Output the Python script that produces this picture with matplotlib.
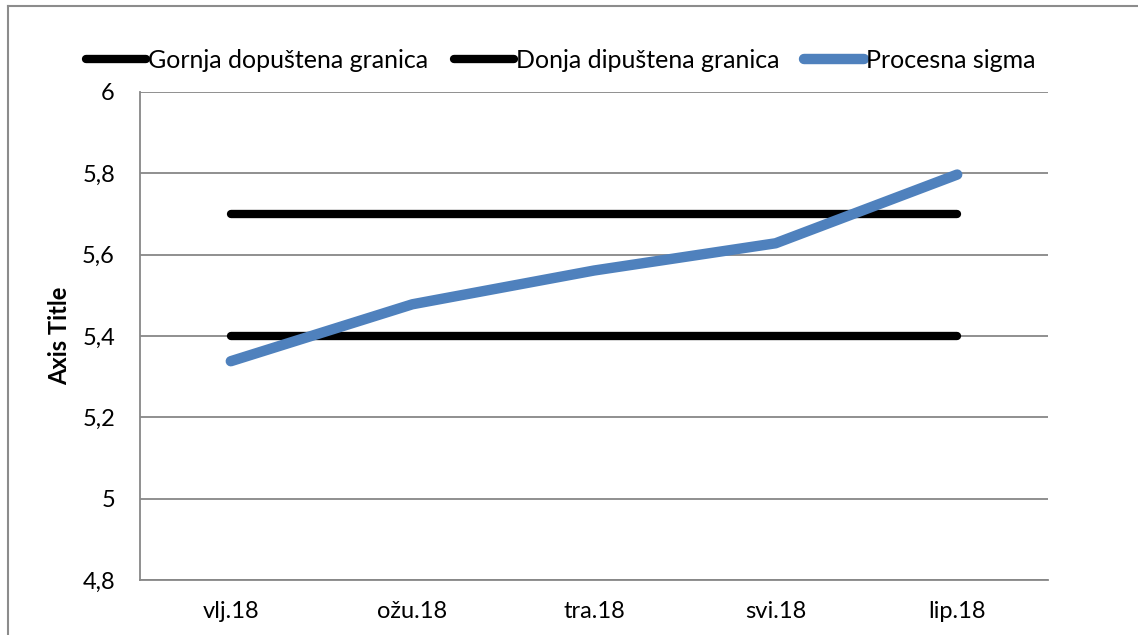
import matplotlib
matplotlib.use("Agg")
import matplotlib.pyplot as plt
from matplotlib.lines import Line2D
from matplotlib.ticker import FuncFormatter

months = ["vlj.18", "ožu.18", "tra.18", "svi.18", "lip.18"]
upper_limit = [5.7, 5.7, 5.7, 5.7, 5.7]
lower_limit = [5.4, 5.4, 5.4, 5.4, 5.4]
process_sigma = [5.338, 5.478, 5.561, 5.628, 5.797]
y_ticks = [4.8, 5.0, 5.2, 5.4, 5.6, 5.8, 6.0]

plt.rcParams["font.family"] = ["Lato", "DejaVu Sans"]
FS = 17
GRID = "#878787"

fig = plt.figure(figsize=(11.38, 6.35), dpi=100)
ax = fig.add_axes([140 / 1138, 1 - 580 / 635, 908 / 1138, 488 / 635])

x = range(len(months))
ax.plot(x, upper_limit, color="black", lw=6, solid_capstyle="round",
        label="Gornja dopuštena granica", zorder=3)
ax.plot(x, lower_limit, color="black", lw=6, solid_capstyle="round",
        label="Donja dipuštena granica", zorder=3)
ax.plot(x, process_sigma, color="#4F81BD", lw=7.5, solid_capstyle="round",
        solid_joinstyle="round", label="Procesna sigma", zorder=4)

ax.set_xlim(-0.5, len(months) - 0.5)
ax.set_ylim(4.8, 6.0)
ax.set_yticks(y_ticks)
ax.yaxis.set_major_formatter(FuncFormatter(lambda v, _: f"{v:g}".replace(".", ",")))
ax.set_xticks(list(x))
ax.set_xticklabels(months)
ax.tick_params(axis="both", length=0, labelsize=FS, colors="black")
ax.tick_params(axis="y", pad=18)
ax.tick_params(axis="x", pad=15)

ax.grid(axis="y", color=GRID, lw=1.3)
ax.set_axisbelow(True)
for side in ("top", "right"):
    ax.spines[side].set_visible(False)
for side in ("left", "bottom"):
    ax.spines[side].set_color(GRID)
    ax.spines[side].set_linewidth(1.3)

ax.set_ylabel("Axis Title", fontsize=FS, fontweight="bold")
ax.yaxis.set_label_coords(-0.076, 0.5)

fig.legend(loc="center", bbox_to_anchor=(561 / 1138, 1 - 60 / 635), ncol=3,
           frameon=False, fontsize=18, handlelength=2.4, handletextpad=0.08,
           columnspacing=1.0)

# outer chart frame
fx, fy = 8 / 1138, 1 - 6 / 635
fig.add_artist(Line2D([fx, fx], [0, fy], transform=fig.transFigure, color="#8c8c8c", lw=1.5))
fig.add_artist(Line2D([fx, 1], [fy, fy], transform=fig.transFigure, color="#8c8c8c", lw=1.5))

fig.savefig("out.png", dpi=100)
